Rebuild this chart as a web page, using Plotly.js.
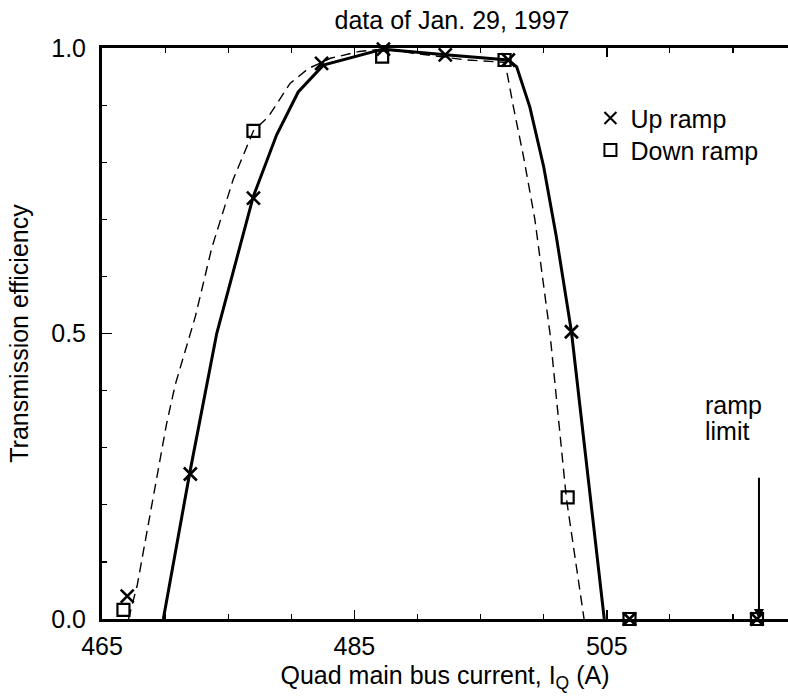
<!DOCTYPE html>
<html>
<head>
<meta charset="utf-8">
<script src="https://cdn.plot.ly/plotly-3.0.1.min.js"></script>
<style>html,body{margin:0;padding:0;background:#fff;}#chart{width:788px;height:697px;}</style>
</head>
<body>
<div id="chart"></div>
<script>
// Measured points
const upX = [467, 472, 477, 482.4, 487.3, 492.2, 497.2, 502.2, 506.8, 516.9];
const upY = [0.04, 0.254, 0.737, 0.973, 0.998, 0.988, 0.979, 0.503, 0, 0];
const downX = [466.7, 477.0, 487.2, 496.9, 501.9, 506.8, 516.9];
const downY = [0.016, 0.855, 0.985, 0.979, 0.213, 0, 0];

// Fitted curves
const upFitX = [469.86, 471.92, 474.09, 476.99, 478.84, 480.55, 482.54, 487.27, 492.2, 497.2, 497.86, 498.9, 500.0, 501.0, 502.2, 504.8];
const upFitY = [0, 0.252, 0.500, 0.740, 0.848, 0.923, 0.970, 0.998, 0.988, 0.979, 0.967, 0.897, 0.792, 0.670, 0.503, 0];
const downFitX = [467.1, 467.8, 470.1, 470.8, 472.4, 473.7, 475.4, 477.0, 478.2, 479.9, 481.35, 483.1, 485.4, 487.3, 490.0, 493.9, 496.9, 497.1, 497.6, 498.4, 499.3, 500.5, 501.8, 503.2];
const downFitY = [0, 0.06, 0.34, 0.41, 0.53, 0.65, 0.77, 0.855, 0.88, 0.938, 0.964, 0.982, 0.994, 0.998, 0.99, 0.979, 0.975, 0.956, 0.897, 0.81, 0.70, 0.50, 0.211, 0];

const rampLimitX = 517.06;
const rampArrowTop = 0.25;

const FONT = 'Liberation Sans, Arial, Helvetica, sans-serif';

const traces = [
  {x: downFitX, y: downFitY, mode: 'lines', line: {color: '#000', width: 1.4, dash: '10px,6px'}, showlegend: false, hoverinfo: 'skip'},
  {x: upFitX, y: upFitY, mode: 'lines', line: {color: '#000', width: 3}, showlegend: false, hoverinfo: 'skip'},
  {x: upX, y: upY, mode: 'markers', name: 'Up ramp', cliponaxis: false, legend: 'legend',
   marker: {symbol: 'x-thin-open', size: 13, color: '#000', line: {color: '#000', width: 2.6}}},
  {x: downX, y: downY, mode: 'markers', name: 'Down ramp', cliponaxis: false, legend: 'legend2',
   marker: {symbol: 'square-open', size: 12, color: '#000', line: {color: '#000', width: 2.2}}}
];

const legendBase = {xanchor: 'left', yanchor: 'middle', bgcolor: 'rgba(0,0,0,0)', font: {size: 25, family: FONT}, itemsizing: 'constant'};

const layout = {
  width: 788, height: 697,
  margin: {l: 102, r: 0, t: 48, b: 78, pad: 0},
  paper_bgcolor: '#fff', plot_bgcolor: '#fff',
  font: {family: FONT, size: 25, color: '#000'},
  title: {text: 'data of Jan. 29, 1997', x: 452/788, xanchor: 'center', y: 0.971, yanchor: 'middle', font: {size: 25, family: FONT}},
  showlegend: true,
  legend: Object.assign({}, legendBase, {x: 0.712, y: 0.877}),
  legend2: Object.assign({}, legendBase, {x: 0.712, y: 0.821}),
  xaxis: {
    range: [465, 519.36], tickmode: 'linear', tick0: 465, dtick: 20,
    ticks: 'inside', ticklen: 9, tickwidth: 1.5, tickcolor: '#000',
    minor: {dtick: 5, tick0: 465, ticks: 'inside', ticklen: 5, tickwidth: 1.2, tickcolor: '#000'},
    showline: true, linewidth: 3, linecolor: '#000', mirror: 'allticks',
    showgrid: false, zeroline: false, ticklabelstandoff: 3,
    title: {text: 'Quad main bus current, I<sub>Q</sub> (A)', standoff: 8, font: {size: 25, family: FONT}}
  },
  yaxis: {
    range: [0, 1], tickmode: 'linear', tick0: 0, dtick: 0.5, tickformat: '.1f',
    ticks: 'inside', ticklen: 10, tickwidth: 1.5, tickcolor: '#000',
    minor: {dtick: 0.1, tick0: 0, ticks: 'inside', ticklen: 5, tickwidth: 1.2, tickcolor: '#000'},
    showline: true, linewidth: 3, linecolor: '#000', mirror: false,
    showgrid: false, zeroline: false, ticklabelstandoff: 8,
    title: {text: 'Transmission efficiency', standoff: 16, font: {size: 25, family: FONT}}
  },
  annotations: [
    {x: rampLimitX, y: 0, ax: rampLimitX, ay: rampArrowTop, xref: 'x', yref: 'y', axref: 'x', ayref: 'y',
     showarrow: true, arrowhead: 2, arrowsize: 1, arrowwidth: 2, arrowcolor: '#000', text: ''},
    {x: 512.6, y: 0.375, xref: 'x', yref: 'y', xanchor: 'left', yanchor: 'middle', showarrow: false, text: 'ramp', font: {size: 25, family: FONT}},
    {x: 512.6, y: 0.329, xref: 'x', yref: 'y', xanchor: 'left', yanchor: 'middle', showarrow: false, text: 'limit', font: {size: 25, family: FONT}}
  ]
};

Plotly.newPlot('chart', traces, layout, {displayModeBar: false, staticPlot: true});
</script>
</body>
</html>
